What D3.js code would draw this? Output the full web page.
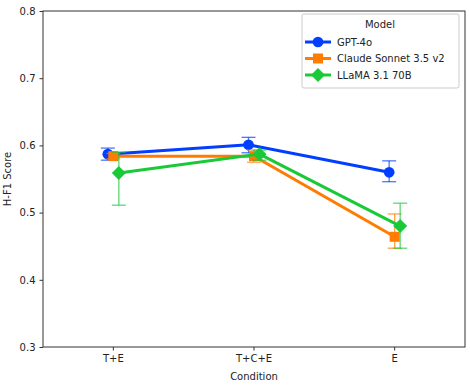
<!DOCTYPE html>
<html lang="en">
<head>
<meta charset="UTF-8">
<script src="https://d3js.org/d3.v7.min.js"></script>
<style>
  body { margin: 0; background: #fff; }
  text { font-family: "DejaVu Sans", sans-serif; }
</style>
</head>
<body>
<svg width="470" height="385" id="chart"></svg>
<script>
// data
const conditions = ["T+E", "T+C+E", "E"];
const models = ["GPT-4o", "Claude Sonnet 3.5 v2", "LLaMA 3.1 70B"];
const gptMean = [0.587, 0.601, 0.560];
const gptLow = [0.578, 0.589, 0.546];
const gptHigh = [0.596, 0.612, 0.577];
const claudeMean = [0.584, 0.584, 0.464];
const claudeLow = [0.580, 0.575, 0.447];
const claudeHigh = [0.588, 0.593, 0.498];
const llamaMean = [0.559, 0.587, 0.480];
const llamaLow = [0.511, 0.578, 0.447];
const llamaHigh = [0.590, 0.593, 0.514];
const yTicks = [0.3, 0.4, 0.5, 0.6, 0.7, 0.8];

const series = [
  { name: models[0], mean: gptMean, low: gptLow, high: gptHigh, color: "#023eff", shape: "circle", dodge: -1 },
  { name: models[1], mean: claudeMean, low: claudeLow, high: claudeHigh, color: "#ff7c00", shape: "square", dodge: 0 },
  { name: models[2], mean: llamaMean, low: llamaLow, high: llamaHigh, color: "#1ac938", shape: "diamond", dodge: 1 }
];

const svg = d3.select("#chart");
const plotLeft = 43, plotRight = 465, plotTop = 11, plotBottom = 347;

const x = d3.scaleBand().domain(conditions).range([plotLeft, plotRight]);
const y = d3.scaleLinear().domain([0.3, 0.8]).range([plotBottom, plotTop]);
const dodgeStep = 5.5;
const px = (c, s) => x(c) + x.bandwidth() / 2 + s.dodge * dodgeStep;

// axes
svg.append("g")
  .attr("transform", `translate(0,${plotBottom})`)
  .call(d3.axisBottom(x).tickSize(3.5).tickPadding(4))
  .call(g => g.select(".domain").remove());
svg.append("g")
  .attr("transform", `translate(${plotLeft},0)`)
  .call(d3.axisLeft(y).tickValues(yTicks).tickFormat(d3.format(".1f")).tickSize(3.5).tickPadding(4))
  .call(g => g.select(".domain").remove());
svg.selectAll(".tick text").style("font-size", "10px").attr("fill", "#222");
svg.selectAll(".tick line").attr("stroke", "#333");

svg.append("rect")
  .attr("x", plotLeft).attr("y", plotTop)
  .attr("width", plotRight - plotLeft).attr("height", plotBottom - plotTop)
  .attr("fill", "none").attr("stroke", "#333").attr("stroke-width", 1);

svg.append("text")
  .attr("x", (plotLeft + plotRight) / 2).attr("y", 380)
  .attr("text-anchor", "middle").style("font-size", "10px").attr("fill", "#222")
  .text("Condition");
svg.append("text")
  .attr("transform", `translate(11,${(plotTop + plotBottom) / 2}) rotate(-90)`)
  .attr("text-anchor", "middle").style("font-size", "10px").attr("fill", "#222")
  .text("H-F1 Score");

const symbolFor = shape => {
  if (shape === "circle") return d3.symbol().type(d3.symbolCircle).size(90)();
  if (shape === "square") return d3.symbol().type(d3.symbolSquare).size(100)();
  return "M0,-7L7,0L0,7L-7,0Z";
};

const line = d3.line();

series.forEach(s => {
  const g = svg.append("g");
  // error bars
  conditions.forEach((c, i) => {
    const cx = px(c, s);
    g.append("line")
      .attr("x1", cx).attr("x2", cx)
      .attr("y1", y(s.low[i])).attr("y2", y(s.high[i]))
      .attr("stroke", s.color).attr("stroke-width", 1.3).attr("opacity", 0.7);
    [s.low[i], s.high[i]].forEach(v => {
      g.append("line")
        .attr("x1", cx - 7).attr("x2", cx + 7)
        .attr("y1", y(v)).attr("y2", y(v))
        .attr("stroke", s.color).attr("stroke-width", 1.3).attr("opacity", 0.7);
    });
  });
  g.append("path")
    .attr("d", line(conditions.map((c, i) => [px(c, s), y(s.mean[i])])))
    .attr("fill", "none").attr("stroke", s.color).attr("stroke-width", 3);
  conditions.forEach((c, i) => {
    g.append("path")
      .attr("d", symbolFor(s.shape))
      .attr("transform", `translate(${px(c, s)},${y(s.mean[i])})`)
      .attr("fill", s.color);
  });
});

// legend
const lg = svg.append("g");
lg.append("rect")
  .attr("x", 302).attr("y", 14).attr("width", 157).attr("height", 74)
  .attr("rx", 2).attr("fill", "#fff").attr("fill-opacity", 0.8)
  .attr("stroke", "#ccc");
lg.append("text")
  .attr("x", 380).attr("y", 28).attr("text-anchor", "middle")
  .style("font-size", "10px").attr("fill", "#222").text("Model");
series.forEach((s, i) => {
  const ly = 42 + i * 16.5;
  lg.append("line")
    .attr("x1", 305).attr("x2", 331).attr("y1", ly).attr("y2", ly)
    .attr("stroke", s.color).attr("stroke-width", 3);
  lg.append("path")
    .attr("d", symbolFor(s.shape))
    .attr("transform", `translate(318,${ly})`)
    .attr("fill", s.color);
  lg.append("text")
    .attr("x", 337).attr("y", ly + 3.5)
    .style("font-size", "10px").attr("fill", "#222").text(s.name);
});
</script>
</body>
</html>
